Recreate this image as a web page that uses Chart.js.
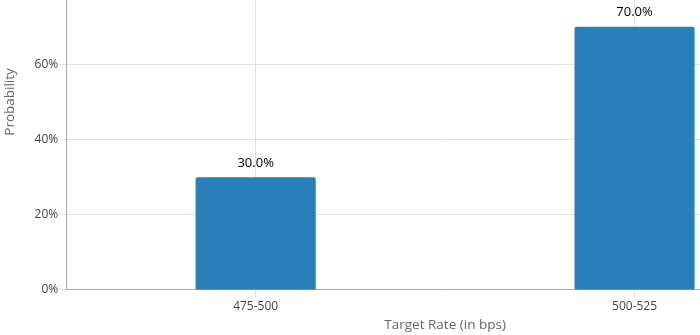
<!DOCTYPE html>
<html><head><meta charset="utf-8">
<script src="https://cdn.jsdelivr.net/npm/chart.js@4"></script>
<style>
html,body{margin:0;padding:0;overflow:hidden;width:700px;height:335px;background:#fff}
#wrap{position:absolute;left:0;top:-96px;width:825px;height:432px}
</style></head><body>
<div id="wrap"><canvas id="c"></canvas></div>
<script>
const categories = ['475-500', '500-525'];
const probabilities = [30.0, 70.0];
const yTickValues = [0, 20, 40, 60, 80, 100];

const valueLabels = {
  id: 'valueLabels',
  afterDatasetsDraw(chart) {
    const ctx = chart.ctx;
    const meta = chart.getDatasetMeta(0);
    ctx.save();
    ctx.font = '13px "Open Sans"';
    ctx.fillStyle = '#000';
    ctx.textAlign = 'center';
    ctx.textBaseline = 'middle';
    meta.data.forEach((bar, i) => {
      ctx.fillText(probabilities[i].toFixed(1) + '%', bar.x, bar.y - 14);
    });
    ctx.restore();
  }
};

new Chart(document.getElementById('c'), {
  type: 'bar',
  data: {
    labels: categories,
    datasets: [{
      data: probabilities,
      backgroundColor: '#2a7fb8',
      borderRadius: {topLeft: 2, topRight: 2},
      borderSkipped: 'bottom',
      barPercentage: 0.317,
      categoryPercentage: 1
    }]
  },
  options: {
    responsive: true,
    maintainAspectRatio: false,
    animation: false,
    layout: {padding: {top: 10, right: 1, bottom: 0, left: 0}},
    plugins: {legend: {display: false}, tooltip: {enabled: false}},
    scales: {
      x: {
        grid: {offset: false, color: '#e2e2e2', tickLength: 8},
        border: {color: '#aaa'},
        ticks: {color: '#444', font: {family: 'Open Sans', size: 12}, padding: 1},
        title: {display: true, text: 'Target Rate (in bps)', color: '#666', font: {family: 'Open Sans', size: 13.5}, padding: {top: 2.5, bottom: 3}}
      },
      y: {
        min: 0, max: 100,
        afterBuildTicks(scale) { scale.ticks = yTickValues.map(v => ({value: v})); },
        grid: {color: '#e2e2e2', tickLength: 7},
        border: {color: '#aaa'},
        ticks: {color: '#444', font: {family: 'Open Sans', size: 12}, padding: 1, callback: v => v + '%'},
        title: {display: true, text: 'Probability', color: '#666', font: {family: 'Open Sans', size: 13.5}, padding: {top: 2, bottom: 8.5}}
      }
    }
  },
  plugins: [valueLabels]
});
</script>
</body></html>
